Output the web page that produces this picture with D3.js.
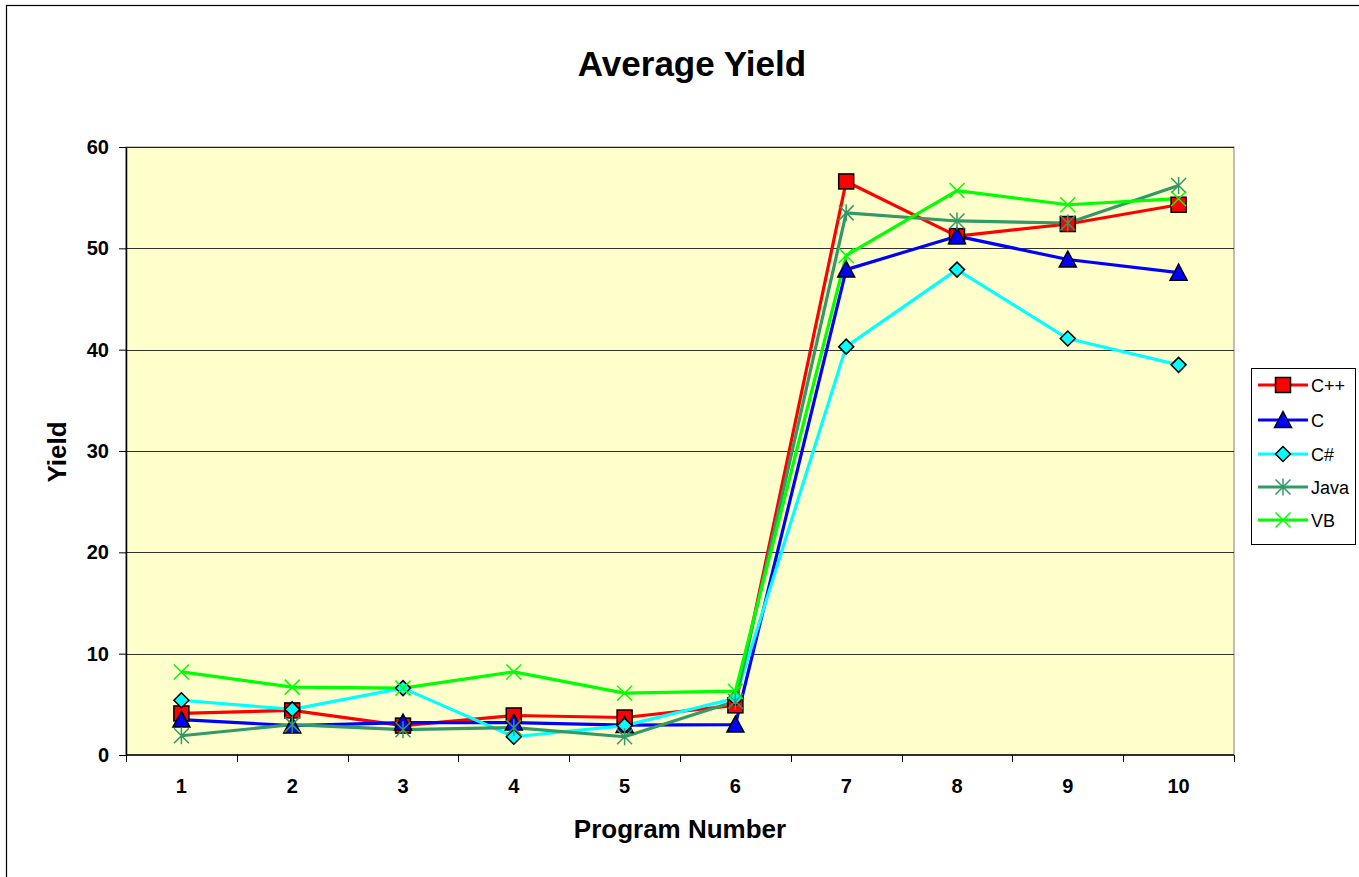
<!DOCTYPE html>
<html>
<head>
<meta charset="utf-8">
<script src="https://cdn.jsdelivr.net/npm/d3@7"></script>
<style>
  html, body { margin: 0; padding: 0; background: #fff; }
  svg { display: block; font-family: "Liberation Sans", Arial, sans-serif; }
</style>
</head>
<body>
<svg id="chart" width="1359" height="877"></svg>
<script>
// Program numbers on the x axis
const programs = [1, 2, 3, 4, 5, 6, 7, 8, 9, 10];
// Y axis tick values
const yTicks = [0, 10, 20, 30, 40, 50, 60];

// Average yield per language
const cppYield  = [4.1, 4.4, 2.9, 3.9, 3.7, 4.9, 56.6, 51.2, 52.4, 54.3];
const cYield    = [3.5, 2.9, 3.2, 3.2, 2.95, 3.0, 47.9, 51.2, 48.9, 47.6];
const csYield   = [5.4, 4.5, 6.6, 1.8, 2.9, 5.6, 40.3, 47.9, 41.1, 38.5];
const javaYield = [1.9, 3.0, 2.5, 2.7, 1.8, 5.3, 53.5, 52.7, 52.5, 56.2];
const vbYield   = [8.2, 6.7, 6.6, 8.2, 6.1, 6.3, 49.3, 55.7, 54.3, 54.9];

const seriesNames = ["C++", "C", "C#", "Java", "VB"];

const series = [
  { name: seriesNames[0], values: cppYield,  color: "#FF0000", marker: "square",   fill: "#FF0000" },
  { name: seriesNames[1], values: cYield,    color: "#0000FF", marker: "triangle", fill: "#0000FF" },
  { name: seriesNames[2], values: csYield,   color: "#00FFFF", marker: "diamond",  fill: "#00FFFF" },
  { name: seriesNames[3], values: javaYield, color: "#339966", marker: "star",     fill: "none" },
  { name: seriesNames[4], values: vbYield,   color: "#00FF00", marker: "cross",    fill: "none" }
];

const svg = d3.select("#chart");
const font = '"Liberation Sans", Arial, sans-serif';

// Outer chart frame (continues past the right and bottom edges)
svg.append("rect")
  .attr("x", 6.5).attr("y", 5.5)
  .attr("width", 1500).attr("height", 1000)
  .attr("fill", "#fff").attr("stroke", "#000").attr("stroke-width", 1.2);

const plot = { left: 126, right: 1234, top: 147, bottom: 755 };

const x = d3.scaleBand().domain(programs).range([plot.left, plot.right]).padding(0);
const y = d3.scaleLinear().domain([0, 60]).range([plot.bottom, plot.top]);

// Plot area background
svg.append("rect")
  .attr("x", plot.left).attr("y", plot.top)
  .attr("width", plot.right - plot.left).attr("height", plot.bottom - plot.top)
  .attr("fill", "#FFFFCC").attr("stroke", "#808080").attr("stroke-width", 1);

// Horizontal gridlines
svg.append("g").selectAll("line")
  .data(yTicks.filter(d => d > 0))
  .join("line")
  .attr("x1", plot.left).attr("x2", plot.right)
  .attr("y1", d => Math.round(y(d)) + 0.5).attr("y2", d => Math.round(y(d)) + 0.5)
  .attr("stroke", "#000").attr("stroke-width", 0.8);

// Y axis
const yAxis = svg.append("g")
  .attr("transform", `translate(${plot.left},0)`)
  .call(d3.axisLeft(y).tickValues(yTicks).tickSize(7).tickPadding(10).tickSizeOuter(0));
yAxis.select(".domain").attr("stroke", "#000").attr("stroke-width", 1.5);
yAxis.selectAll(".tick line").attr("stroke", "#000");
yAxis.selectAll(".tick text")
  .attr("font-family", font).attr("font-size", 20).attr("font-weight", "bold").attr("fill", "#000");

// X axis labels (centred in each band)
const xAxis = svg.append("g")
  .attr("transform", `translate(0,${plot.bottom})`)
  .call(d3.axisBottom(x).tickSize(0).tickPadding(24).tickSizeOuter(0));
xAxis.select(".domain").remove();
xAxis.selectAll(".tick text")
  .attr("font-family", font).attr("font-size", 20).attr("font-weight", "bold").attr("fill", "#000");

// X axis line and tick marks at band boundaries
svg.append("line")
  .attr("x1", plot.left).attr("x2", plot.right)
  .attr("y1", plot.bottom).attr("y2", plot.bottom)
  .attr("stroke", "#000").attr("stroke-width", 1.5);
const boundaries = programs.map(d => x(d)).concat([x.range()[1]]);
svg.append("g").selectAll("line")
  .data(boundaries)
  .join("line")
  .attr("x1", d => Math.round(d) + 0.5).attr("x2", d => Math.round(d) + 0.5)
  .attr("y1", plot.bottom).attr("y2", plot.bottom + 7)
  .attr("stroke", "#000").attr("stroke-width", 1);

// Titles
svg.append("text")
  .attr("x", 692).attr("y", 76)
  .attr("text-anchor", "middle")
  .attr("font-family", font).attr("font-size", 35).attr("font-weight", "bold")
  .text("Average Yield");

svg.append("text")
  .attr("x", 680).attr("y", 838)
  .attr("text-anchor", "middle")
  .attr("font-family", font).attr("font-size", 26).attr("font-weight", "bold")
  .text("Program Number");

svg.append("text")
  .attr("transform", "translate(66,452) rotate(-90)")
  .attr("text-anchor", "middle")
  .attr("font-family", font).attr("font-size", 26).attr("font-weight", "bold")
  .text("Yield");

// Marker drawing
function drawMarker(g, type, color, fill) {
  const s = 7.5;
  if (type === "square") {
    g.append("rect").attr("x", -s).attr("y", -s).attr("width", 2 * s).attr("height", 2 * s)
      .attr("fill", fill).attr("stroke", "#000").attr("stroke-width", 1.5);
  } else if (type === "triangle") {
    g.append("path").attr("d", `M0,${-s - 1}L${s + 1},${s}L${-s - 1},${s}Z`)
      .attr("fill", fill).attr("stroke", "#000").attr("stroke-width", 1.5);
  } else if (type === "diamond") {
    g.append("path").attr("d", `M0,${-s}L${s},0L0,${s}L${-s},0Z`)
      .attr("fill", fill).attr("stroke", "#000").attr("stroke-width", 1.5);
  } else if (type === "star") {
    g.append("path").attr("d", `M${-s},${-s}L${s},${s}M${s},${-s}L${-s},${s}M0,${-s - 1}L0,${s + 1}`)
      .attr("fill", "none").attr("stroke", color).attr("stroke-width", 1.5);
  } else if (type === "cross") {
    g.append("path").attr("d", `M${-s},${-s}L${s},${s}M${s},${-s}L${-s},${s}`)
      .attr("fill", "none").attr("stroke", color).attr("stroke-width", 1.5);
  }
}

const cx = d => x(d) + x.bandwidth() / 2;
const line = d3.line().x((v, i) => cx(programs[i])).y(v => y(v));

// Series lines
svg.append("g").selectAll("path")
  .data(series)
  .join("path")
  .attr("d", s => line(s.values))
  .attr("fill", "none")
  .attr("stroke", s => s.color)
  .attr("stroke-width", 3.2)
  .attr("stroke-linejoin", "round");

// Series markers
series.forEach(s => {
  const g = svg.append("g");
  s.values.forEach((v, i) => {
    const m = g.append("g").attr("transform", `translate(${cx(programs[i])},${y(v)})`);
    drawMarker(m, s.marker, s.color, s.fill);
  });
});

// Legend
const legend = svg.append("g");
legend.append("rect")
  .attr("x", 1251.5).attr("y", 368.5).attr("width", 104).attr("height", 176)
  .attr("fill", "#fff").attr("stroke", "#000").attr("stroke-width", 1);
const legendY = [385, 420, 454, 487, 520];
series.forEach((s, i) => {
  const ly = legendY[i];
  legend.append("line")
    .attr("x1", 1258).attr("x2", 1308).attr("y1", ly).attr("y2", ly)
    .attr("stroke", s.color).attr("stroke-width", 3.2);
  const m = legend.append("g").attr("transform", `translate(1283,${ly})`);
  drawMarker(m, s.marker, s.color, s.fill);
  legend.append("text")
    .attr("x", 1311).attr("y", ly + 6.5)
    .attr("font-family", font).attr("font-size", 18)
    .text(s.name);
});
</script>
</body>
</html>
